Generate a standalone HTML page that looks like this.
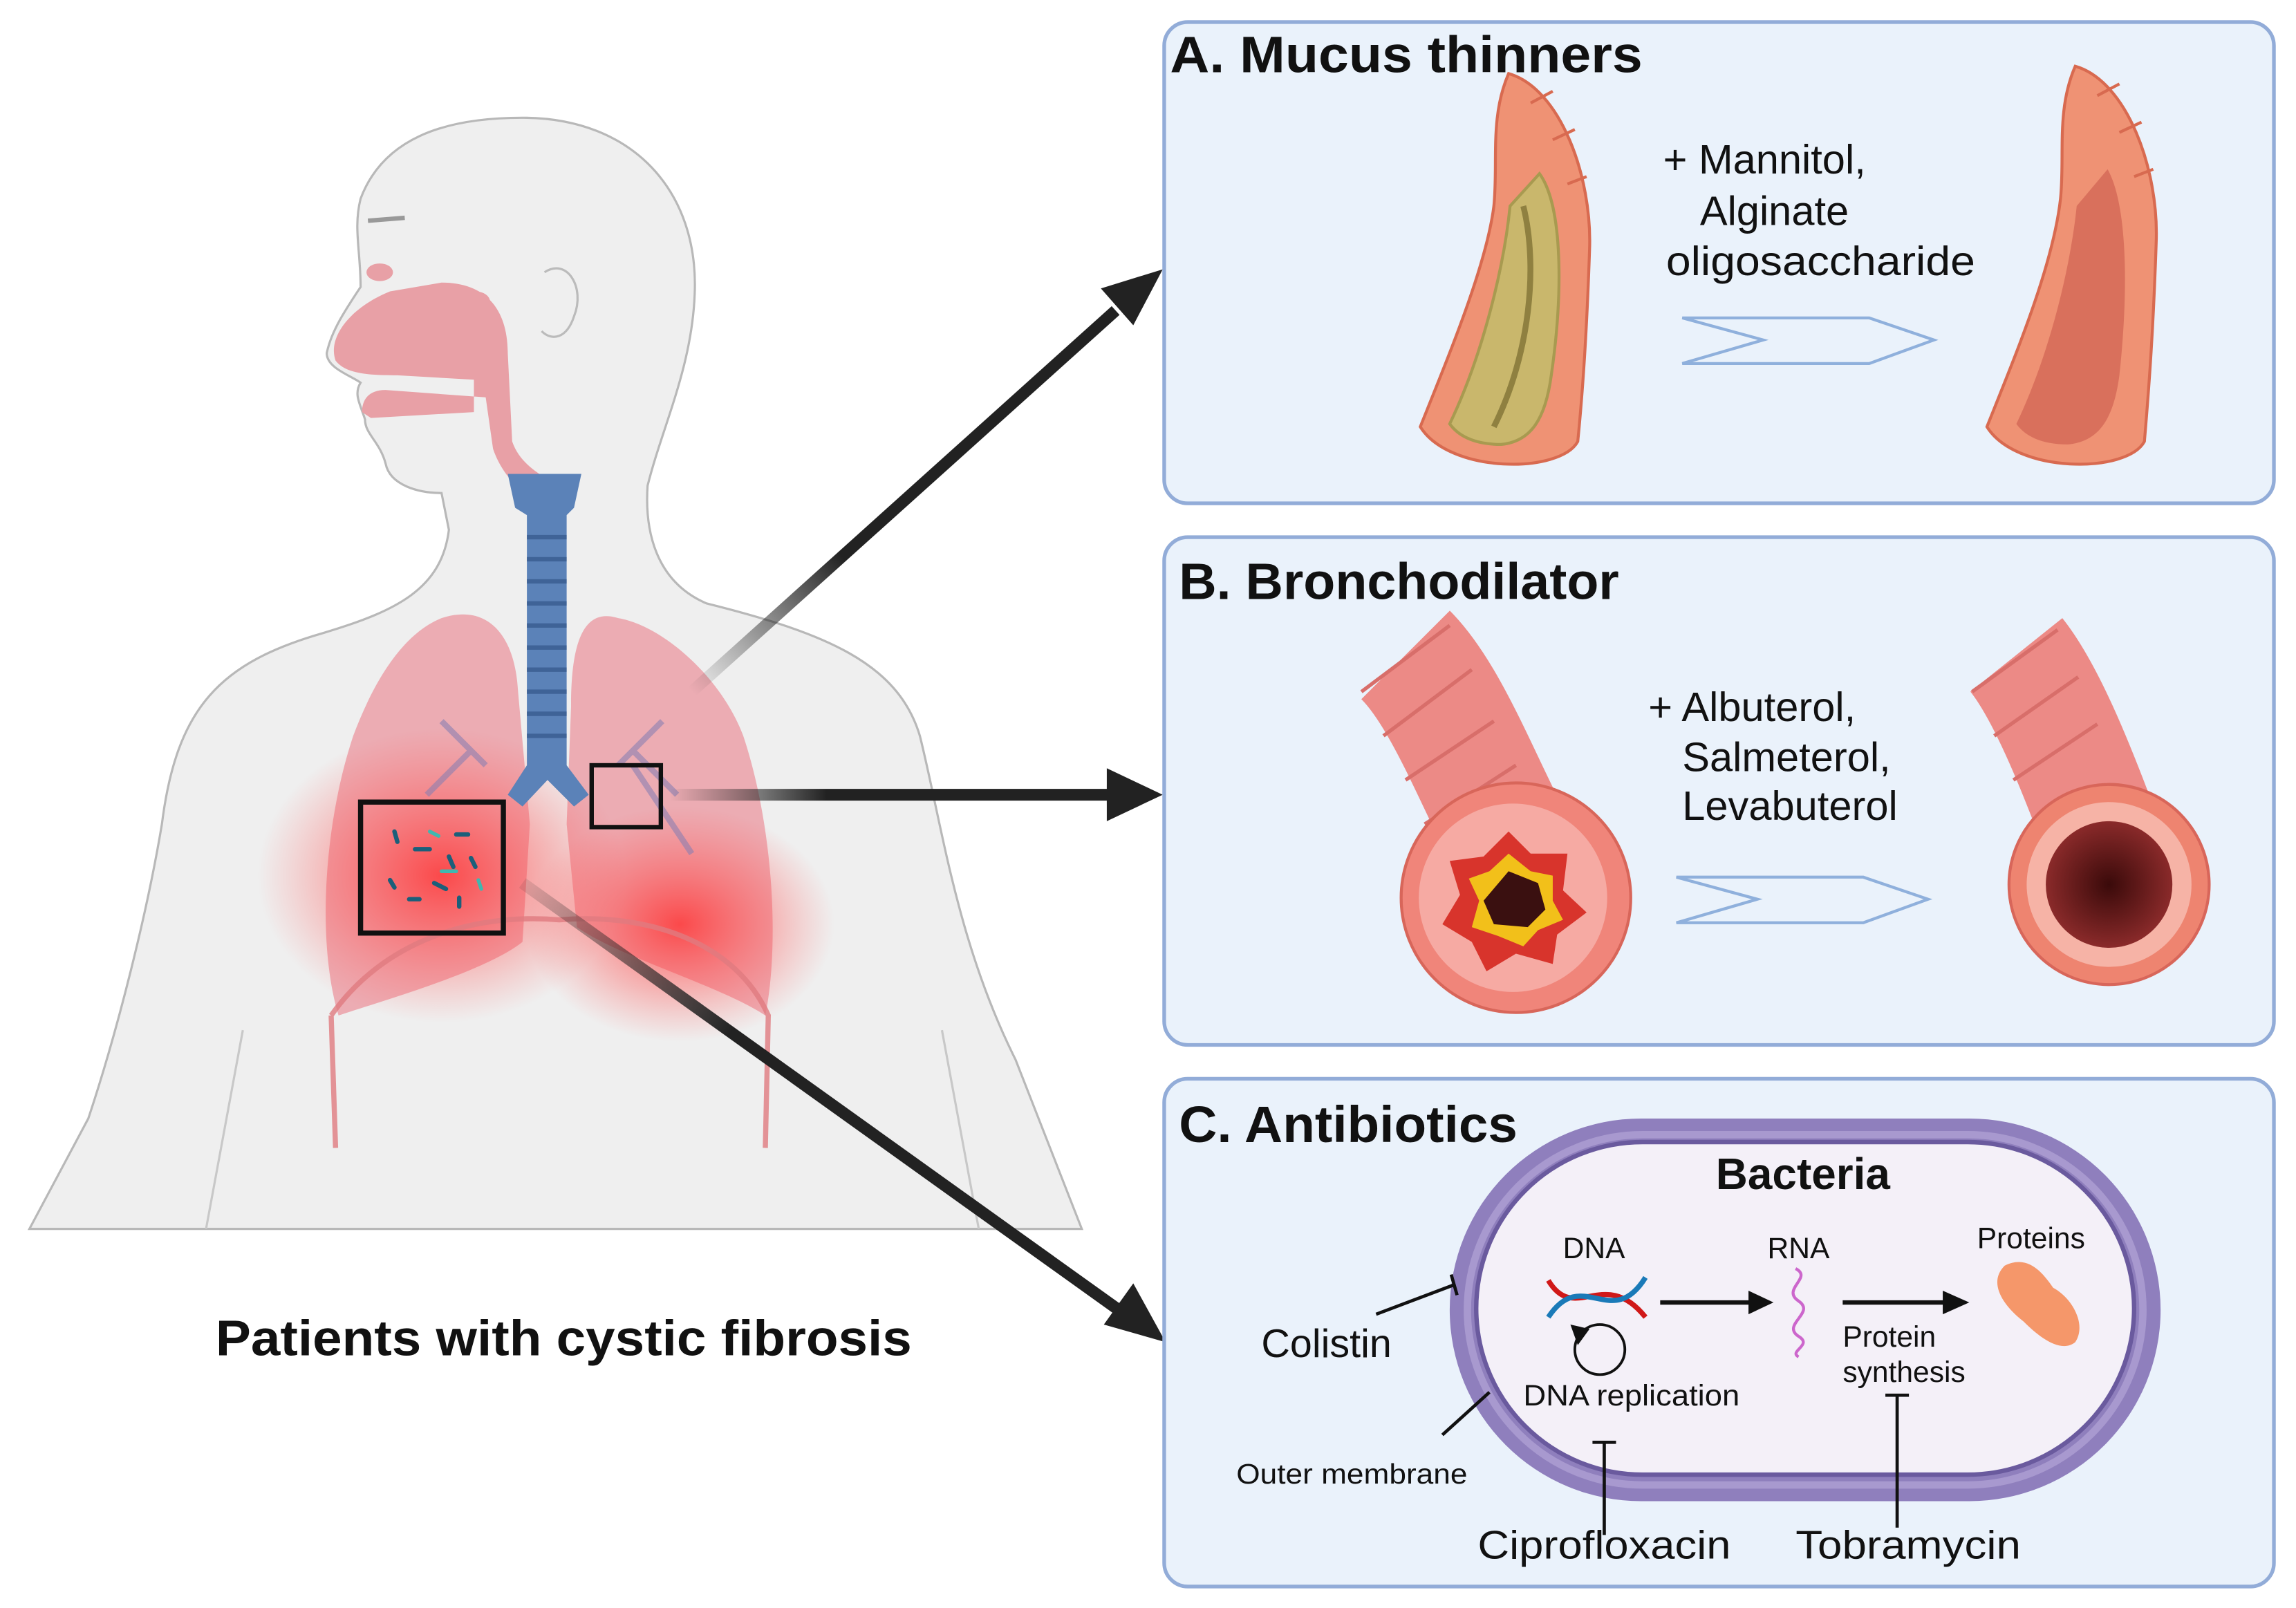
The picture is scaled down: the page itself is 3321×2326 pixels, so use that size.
<!DOCTYPE html>
<html><head><meta charset="utf-8"><style>
html,body{margin:0;padding:0;background:#fff;}
svg{display:block;}
text{font-family:"Liberation Sans",sans-serif;fill:#111;}
</style></head><body>
<svg width="3321" height="2326" viewBox="0 0 1560 1092.6" preserveAspectRatio="none" xmlns="http://www.w3.org/2000/svg">
<defs>
<radialGradient id="glow1" cx="0.5" cy="0.5" r="0.5"><stop offset="0" stop-color="#ff3030" stop-opacity="0.8"/><stop offset="0.6" stop-color="#ff5050" stop-opacity="0.35"/><stop offset="1" stop-color="#ff6060" stop-opacity="0"/></radialGradient>
<linearGradient id="gA" x1="470" y1="470" x2="760" y2="205" gradientUnits="userSpaceOnUse"><stop offset="0" stop-color="#222" stop-opacity="0"/><stop offset="0.35" stop-color="#222"/></linearGradient>
<linearGradient id="gB" x1="455" y1="540" x2="760" y2="540" gradientUnits="userSpaceOnUse"><stop offset="0" stop-color="#222" stop-opacity="0"/><stop offset="0.35" stop-color="#222"/></linearGradient>
<linearGradient id="gC" x1="355" y1="600" x2="760" y2="890" gradientUnits="userSpaceOnUse"><stop offset="0" stop-color="#222" stop-opacity="0.1"/><stop offset="0.35" stop-color="#222"/></linearGradient>
<radialGradient id="lum" cx="0.5" cy="0.5" r="0.5"><stop offset="0" stop-color="#3a0a0a"/><stop offset="1" stop-color="#8a2a2a"/></radialGradient>
</defs>
<rect width="1560" height="1092.6" fill="#fff"/>

<!-- body -->
<path d="M20,835 L60,760 C80,700 100,620 110,560 C120,480 150,450 220,430 C270,415 300,400 305,360 L300,335 C285,335 265,330 262,315 C258,300 248,295 248,285 C245,275 240,268 245,260 C238,255 222,250 222,240 C225,225 235,210 245,195 C245,170 240,155 245,135 C260,95 300,80 355,80 C430,80 475,130 472,200 C470,250 450,290 440,330 C438,360 445,395 480,410 C560,430 610,450 625,500 C640,560 650,640 690,720 L735,835 Z" fill="#efefef" stroke="#b8b8b8" stroke-width="1.5"/>
<path d="M165,700 L140,835 M640,700 L665,835" stroke="#c8c8c8" stroke-width="1.5" fill="none"/>
<path d="M370,185 C385,175 398,195 390,215 C385,230 375,232 368,225" fill="none" stroke="#bbb" stroke-width="1.5"/>
<path d="M250,150 L275,148" stroke="#999" stroke-width="3"/>
<path d="M228,245 C222,228 240,208 265,198 L300,192 C330,192 345,210 345,240 L348,300 C355,320 375,325 385,335 L368,342 C352,335 340,320 335,305 L330,270 L262,265 C250,265 246,272 246,280 L252,284 L322,280 L322,258 L270,255 C250,255 235,254 228,245 Z" fill="#e8a0a6"/>
<ellipse cx="258" cy="185" rx="9" ry="6" fill="#e8a0a6"/>
<ellipse cx="323" cy="205" rx="10" ry="7" fill="#e8a0a6"/>

<!-- lungs -->
<path d="M300,420 C330,410 350,430 352,470 L360,560 L355,640 C330,660 260,680 230,690 C215,640 220,560 240,500 C255,460 275,430 300,420 Z" fill="#eba0a8" opacity="0.85"/>
<path d="M420,420 C395,412 388,440 388,480 L385,560 L392,630 C420,650 490,670 520,690 C530,640 525,560 505,500 C490,460 450,425 420,420 Z" fill="#eba0a8" opacity="0.85"/>
<ellipse cx="300" cy="595" rx="125" ry="100" fill="url(#glow1)"/>
<ellipse cx="462" cy="628" rx="105" ry="80" fill="url(#glow1)"/>
<path d="M225,690 C260,640 320,620 380,625 C440,620 500,640 522,690 L520,780 M225,690 L228,780" fill="none" stroke="#e07a80" stroke-width="3.5" opacity="0.8"/>
<path d="M330,520 L300,490 M320,510 L290,540 M420,520 L450,490 M430,510 L460,540 M430,520 L470,580" stroke="#8a7fb0" stroke-width="4" fill="none" opacity="0.6"/>
<path d="M345,322 L395,322 L390,345 L385,350 L385,520 L400,540 L390,548 L372,530 L355,548 L345,540 L358,520 L358,350 L350,345 Z" fill="#5b82b8"/>
<g stroke="#3f6397" stroke-width="3">
<line x1="358" y1="365" x2="385" y2="365"/><line x1="358" y1="380" x2="385" y2="380"/><line x1="358" y1="395" x2="385" y2="395"/><line x1="358" y1="410" x2="385" y2="410"/><line x1="358" y1="425" x2="385" y2="425"/><line x1="358" y1="440" x2="385" y2="440"/><line x1="358" y1="455" x2="385" y2="455"/><line x1="358" y1="470" x2="385" y2="470"/><line x1="358" y1="485" x2="385" y2="485"/><line x1="358" y1="500" x2="385" y2="500"/></g>
<rect x="245" y="545" width="97" height="89" fill="none" stroke="#111" stroke-width="3.5"/>
<rect x="402" y="520" width="47" height="42" fill="none" stroke="#111" stroke-width="3"/>
<g stroke="#1b5f7a" stroke-width="3" stroke-linecap="round">
<line x1="268" y1="565" x2="270" y2="572"/><line x1="282" y1="577" x2="292" y2="577"/><line x1="310" y1="567" x2="318" y2="567"/><line x1="305" y1="582" x2="308" y2="589"/><line x1="265" y1="598" x2="268" y2="603"/><line x1="295" y1="600" x2="303" y2="604"/><line x1="278" y1="611" x2="285" y2="611"/><line x1="320" y1="583" x2="323" y2="589"/><line x1="312" y1="610" x2="312" y2="616"/></g>
<g stroke="#3fb8b0" stroke-width="2.5" stroke-linecap="round"><line x1="292" y1="565" x2="298" y2="568"/><line x1="300" y1="592" x2="310" y2="592"/><line x1="325" y1="598" x2="327" y2="604"/></g>

<line x1="470" y1="470" x2="758" y2="211" stroke="url(#gA)" stroke-width="8"/>
<polygon points="790,183 748,196 770,221" fill="#222"/>
<line x1="455" y1="540" x2="755" y2="540" stroke="url(#gB)" stroke-width="8"/>
<polygon points="790,540 752,522 752,558" fill="#222"/>
<line x1="355" y1="600" x2="760" y2="890" stroke="url(#gC)" stroke-width="8"/>
<polygon points="792,912 750,900 770,872" fill="#222"/>

<text x="383" y="921" font-size="34" font-weight="bold" text-anchor="middle" textLength="473" lengthAdjust="spacingAndGlyphs">Patients with cystic fibrosis</text>

<rect x="791" y="15" width="754" height="327" rx="16" fill="#eaf2fb" stroke="#92acd8" stroke-width="2.5"/>
<rect x="791" y="365" width="754" height="345" rx="16" fill="#eaf2fb" stroke="#92acd8" stroke-width="2.5"/>
<rect x="791" y="733" width="754" height="345" rx="16" fill="#eaf2fb" stroke="#92acd8" stroke-width="2.5"/>

<text x="795" y="49" font-size="35" font-weight="bold" textLength="321" lengthAdjust="spacingAndGlyphs">A. Mucus  thinners</text>
<text x="801" y="407" font-size="35" font-weight="bold" textLength="299" lengthAdjust="spacingAndGlyphs">B. Bronchodilator</text>
<text x="801" y="776" font-size="35" font-weight="bold" textLength="230" lengthAdjust="spacingAndGlyphs">C. Antibiotics</text>

<!-- A -->
<path d="M1025,50 C1060,60 1082,120 1080,170 C1078,230 1075,270 1072,300 C1060,322 985,322 965,290 C985,240 1010,180 1015,140 C1018,110 1012,80 1025,50 Z" fill="#ef9274" stroke="#d86a50" stroke-width="2"/>
<path d="M1046,118 C1062,140 1062,200 1054,255 C1050,285 1040,300 1020,302 C1000,302 990,295 985,288 C1008,240 1022,180 1026,140 Z" fill="#c9b76c" stroke="#a89a50" stroke-width="2"/>
<path d="M1035,140 C1045,180 1040,240 1015,290" stroke="#8f8040" stroke-width="4" fill="none"/>
<g stroke="#d86a50" stroke-width="2"><line x1="1040" y1="70" x2="1055" y2="62"/><line x1="1055" y1="95" x2="1070" y2="88"/><line x1="1065" y1="125" x2="1078" y2="120"/></g>
<path d="M1410,45 C1445,55 1467,115 1465,165 C1463,225 1460,265 1457,300 C1445,322 1370,322 1350,290 C1370,240 1395,180 1400,135 C1403,105 1397,75 1410,45 Z" fill="#ef9274" stroke="#d86a50" stroke-width="2"/>
<path d="M1432,115 C1446,140 1446,200 1440,255 C1436,285 1426,300 1405,302 C1385,302 1375,295 1370,288 C1393,240 1407,180 1411,140 Z" fill="#d9705c"/>
<g stroke="#d86a50" stroke-width="2"><line x1="1425" y1="65" x2="1440" y2="57"/><line x1="1440" y1="90" x2="1455" y2="83"/><line x1="1450" y1="120" x2="1463" y2="115"/></g>
<text x="1130" y="118" font-size="28">+ Mannitol,</text>
<text x="1155" y="153" font-size="28">Alginate</text>
<text x="1132" y="187" font-size="28" textLength="210" lengthAdjust="spacingAndGlyphs">oligosaccharide</text>
<polygon points="1143,216 1270,216 1314,231 1270,247 1143,247 1198,231" fill="#eaf2fb" stroke="#8fb0dc" stroke-width="2"/>

<!-- B -->
<path d="M955,445 C980,470 1000,520 1020,560" stroke="#ec8a86" stroke-width="85" fill="none"/>
<g stroke="#d86e6a" stroke-width="2.5" fill="none"><path d="M925,470 L985,425"/><path d="M940,500 L1000,455"/><path d="M955,530 L1015,490"/><path d="M968,560 L1030,520"/></g>
<circle cx="1030" cy="610" r="78" fill="#f0857a" stroke="#d8665a" stroke-width="2"/>
<circle cx="1028" cy="610" r="64" fill="#f6aaa3"/>
<polygon points="1025,565 1040,580 1065,580 1062,605 1078,620 1058,635 1055,655 1030,648 1010,660 1000,640 980,628 992,608 985,585 1008,582" fill="#d8342c"/>
<polygon points="1025,580 1040,592 1055,595 1055,612 1062,625 1045,632 1035,643 1018,636 1000,630 1005,612 998,597 1012,592" fill="#f2c01a"/>
<polygon points="1025,592 1045,600 1050,618 1038,630 1015,628 1008,612" fill="#3a1010"/>
<path d="M1370,445 C1390,470 1410,520 1425,560" stroke="#ec8a86" stroke-width="80" fill="none"/>
<g stroke="#d86e6a" stroke-width="2.5" fill="none"><path d="M1340,470 L1398,428"/><path d="M1355,500 L1412,460"/><path d="M1368,530 L1425,492"/></g>
<circle cx="1433" cy="601" r="68" fill="#ee8470" stroke="#d8665a" stroke-width="2"/>
<circle cx="1433" cy="601" r="56" fill="#f6b3a6"/>
<circle cx="1433" cy="601" r="43" fill="url(#lum)"/>
<text x="1120" y="490" font-size="28">+ Albuterol,</text>
<text x="1143" y="524" font-size="28">Salmeterol,</text>
<text x="1143" y="557" font-size="28">Levabuterol</text>
<polygon points="1139,596 1266,596 1310,611 1266,627 1139,627 1194,611" fill="#eaf2fb" stroke="#8fb0dc" stroke-width="2"/>

<!-- C -->
<rect x="985" y="760" width="483" height="260" rx="130" fill="#8f7fbd"/>
<rect x="997" y="771" width="459" height="238" rx="119" fill="none" stroke="#a899cf" stroke-width="5"/>
<rect x="1003" y="776" width="447" height="226" rx="113" fill="#f4f0f8" stroke="#6a5a9e" stroke-width="3"/>
<text x="1225" y="808" font-size="30" font-weight="bold" text-anchor="middle">Bacteria</text>
<text x="1083" y="855" font-size="20" text-anchor="middle">DNA</text>
<text x="1222" y="855" font-size="20" text-anchor="middle">RNA</text>
<text x="1380" y="848" font-size="20" text-anchor="middle">Proteins</text>
<path d="M1052,870 C1070,900 1090,860 1118,895" stroke="#d01818" stroke-width="3.5" fill="none"/>
<path d="M1052,895 C1075,860 1095,905 1118,868" stroke="#1a7ab8" stroke-width="3.5" fill="none"/>
<circle cx="1087" cy="917" r="17" fill="none" stroke="#111" stroke-width="1.8"/>
<polygon points="1067,900 1080,903 1072,914" fill="#111"/>
<line x1="1128" y1="885" x2="1190" y2="885" stroke="#111" stroke-width="3"/>
<polygon points="1205,885 1188,877 1188,893" fill="#111"/>
<path d="M1220,862 C1232,868 1210,876 1222,884 C1234,892 1210,900 1222,908 C1232,914 1215,918 1222,922" stroke="#cc66cc" stroke-width="2" fill="none"/>
<line x1="1252" y1="885" x2="1322" y2="885" stroke="#111" stroke-width="3"/>
<polygon points="1338,885 1320,877 1320,893" fill="#111"/>
<path d="M1362,860 C1378,852 1388,865 1395,875 C1408,882 1418,900 1410,912 C1400,920 1385,908 1375,898 C1362,888 1350,872 1362,860 Z" fill="#f5976a"/>
<text x="1252" y="915" font-size="20">Protein</text>
<text x="1252" y="939" font-size="20">synthesis</text>
<text x="1035" y="955" font-size="20" textLength="147" lengthAdjust="spacingAndGlyphs">DNA replication</text>
<text x="857" y="922" font-size="27">Colistin</text>
<text x="840" y="1008" font-size="19" textLength="157" lengthAdjust="spacingAndGlyphs">Outer membrane</text>
<text x="1004" y="1059" font-size="27" textLength="172" lengthAdjust="spacingAndGlyphs">Ciprofloxacin</text>
<text x="1220" y="1059" font-size="27" textLength="153" lengthAdjust="spacingAndGlyphs">Tobramycin</text>
<g stroke="#111" stroke-width="2.2">
<line x1="935" y1="893" x2="988" y2="873"/><line x1="986" y1="866" x2="990" y2="880"/>
<line x1="980" y1="975" x2="1012" y2="946"/>
<line x1="1090" y1="980" x2="1090" y2="1043"/><line x1="1082" y1="980" x2="1098" y2="980"/>
<line x1="1289" y1="948" x2="1289" y2="1038"/><line x1="1281" y1="948" x2="1297" y2="948"/>
</g>
</svg>
</body></html>
